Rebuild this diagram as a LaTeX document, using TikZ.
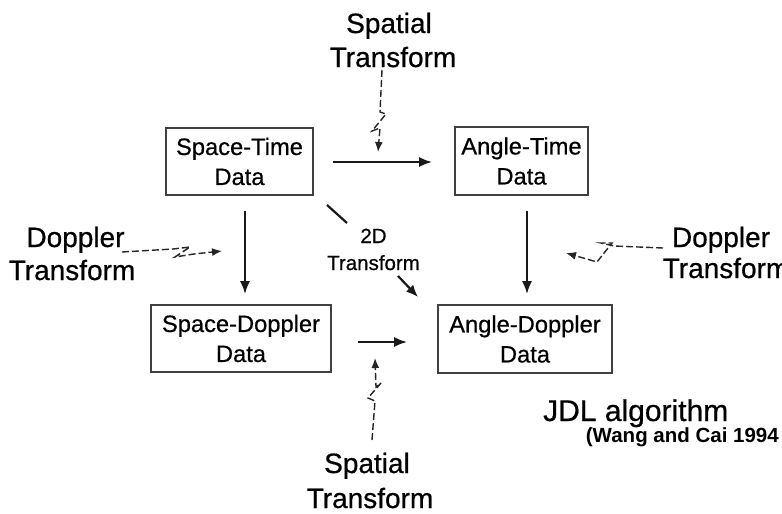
\documentclass[tikz,border=0pt]{standalone}
\usepackage{fontspec}
\setmainfont{Liberation Sans}[FakeBold=0.6]
\newfontfamily\boldref{Liberation Sans Bold}
\usetikzlibrary{arrows.meta}
\begin{document}
\begin{tikzpicture}[x=1pt,y=-1pt,
  box/.style={draw=black!75, line width=1.6pt, inner sep=0pt, align=center, text=black,
    font=\fontsize{23.7}{30}\selectfont},
  lbl/.style={anchor=base, inner sep=0pt, text=black, font=\fontsize{28}{34}\selectfont},
  smalllbl/.style={anchor=base, inner sep=0pt, text=black, font=\fontsize{20.5}{25}\selectfont},
  arr/.style={line width=2.2pt, black!90, -{Latex[length=13pt,width=10pt]}},
  plainline/.style={line width=2.2pt, black!90},
  zap/.style={line width=1.4pt, black!85, dash pattern=on 7pt off 3pt, line join=miter,
    -{Latex[length=10pt,width=8pt]}},
]
\useasboundingbox (0,0) rectangle (782,514);

% boxes
\node[box, minimum width=147pt, minimum height=67pt] (st) at (239.5,161.5) {Space-Time\\Data};
\node[box, minimum width=133pt, minimum height=68pt] (at) at (521.5,161) {Angle-Time\\Data};
\node[box, minimum width=180pt, minimum height=67pt] (sd) at (241,338.5) {Space-Doppler\\Data};
\node[box, minimum width=174pt, minimum height=68pt] (ad) at (525,339) {Angle-Doppler\\Data};

% labels
\node[lbl] (sp1) at (389,33) {Spatial};
\node[lbl] (sp2) at (393,67) {Transform};
\node[lbl] (dl1) at (75.5,247) {Doppler};
\node[lbl] (dl2) at (72,280) {Transform};
\node[lbl] (dr1) at (721,247) {Doppler};
\node[lbl] (dr2) at (726,278) {Transform};
\node[smalllbl] (td1) at (373.5,243) {2D};
\node[smalllbl] (td2) at (373.5,270) {Transform};
\node[lbl] (bs1) at (367,473) {Spatial};
\node[lbl] (bs2) at (370,508) {Transform};
\node[anchor=base west, inner sep=0pt, text=black, font=\fontsize{30}{36}\selectfont] (jdl) at (543,421) {JDL algorithm};
\node[anchor=base east, inner sep=0pt, text=black, font=\boldref\fontsize{20.5}{24}\selectfont] (ref) at (779,442) {(Wang and Cai 1994};

% main arrows
\coordinate (vl) at (245,0);
\coordinate (vr) at (527,0);
\draw[arr] ([xshift=19pt,yshift=-0.5pt]st.east) -- ([xshift=-22pt]at.west |- 0,162);
\draw[arr] ([xshift=26pt,yshift=-3.5pt]sd.east) -- ([xshift=-30pt]ad.west |- 0,342);
\draw[arr] (st.south -| vl) ++(0,15) -- ([yshift=10pt]sd.north -| vl);
\draw[arr] (at.south -| vr) ++(0,15) -- ([yshift=10pt]ad.north -| vr);

% 2D transform diagonal
\coordinate (d1) at (327,205);
\coordinate (d2) at (347,223);
\coordinate (d3) at (398,276);
\coordinate (d4) at (418,297);
\draw[plainline] (d1) -- (d2);
\draw[line width=2.2pt, black!90, -{Latex[length=12pt,width=10pt]}] (d3) -- (d4);

% lightning (dashed) arrows
\coordinate (zt1) at (382,70);
\coordinate (zt2) at (378,152);
\draw[zap] (zt1) -- (380,112) -- (386,114) -- (372,131) -- (380,128) -- (zt2);

\coordinate (zl1) at (122,252);
\coordinate (zl2) at (222,251);
\draw[zap] (zl1) -- (173,249) -- (190,247) -- (175,257) -- (194,254) -- (zl2);

\coordinate (zr1) at (663,248);
\coordinate (zr2) at (566,253);
\draw[zap] (zr1) -- (614,246) -- (601,243) -- (612,243) -- (597,262) -- (zr2);

\coordinate (zb1) at (372,440);
\coordinate (zb2) at (375,358);
\draw[zap] (zb1) -- (375,401) -- (368,398) -- (381,383) -- (376,387) -- (zb2);
\end{tikzpicture}
\end{document}
